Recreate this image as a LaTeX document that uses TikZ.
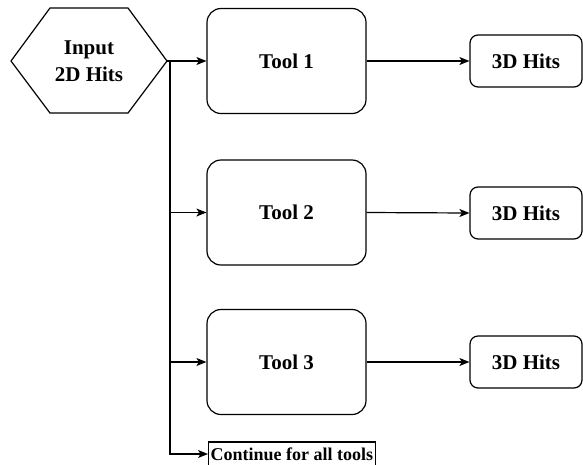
\documentclass[tikz,border=0pt]{standalone}
\usepackage{fontspec}
\setmainfont{Liberation Serif}
\usetikzlibrary{arrows.meta}
\begin{document}
\begin{tikzpicture}[x=1pt,y=-1pt,
  line width=1.2pt,
  label font/.style={font=\fontsize{21}{27}\selectfont\bfseries},
  toolbox/.style={draw, rounded corners=14pt, minimum width=159pt,
    minimum height=105pt, inner sep=0pt, label font},
  hitsbox/.style={draw, rounded corners=8pt, minimum width=112pt,
    minimum height=52pt, inner sep=0pt, label font},
  contbox/.style={draw, rectangle, minimum height=24pt, inner sep=2pt,
    font=\fontsize{18}{21}\selectfont\bfseries},
  flow/.style={-{Stealth[length=10pt,width=8pt,inset=2.5pt]}}
]
\useasboundingbox (0,0) rectangle (583,464);
\clip (0,0) rectangle (583,464);

% input hexagon
\draw (11,61) -- (50,8) -- (128,8) -- (167,61) -- (128,113) -- (50,113) -- cycle;
\coordinate (inR) at (167,61);
\node[label font, align=center, inner sep=0pt] (input) at (89,61) {Input\\2D Hits};

% tools
\node[toolbox] (tool1) at (286.5,61) {Tool 1};
\node[toolbox] (tool2) at (286.5,212.5) {Tool 2};
\node[toolbox] (tool3) at (286.5,362) {Tool 3};

% outputs
\node[hitsbox] (hits1) at (526,61) {3D Hits};
\node[hitsbox] (hits2) at (526,213) {3D Hits};
\node[hitsbox] (hits3) at (526,362) {3D Hits};

% continuation note
\node[contbox, anchor=west] (cont) at (208,454) {Continue for all tools};

% distribution trunk
\coordinate (trunk) at (170,61);
\draw (inR) -- (trunk);
\draw[flow] (trunk) -- (tool1.west);
\draw[flow] (trunk) |- (cont.west);
\draw[flow] (trunk |- tool2.west) -- (tool2.west);
\draw[flow] (trunk |- tool3.west) -- (tool3.west);

% tool outputs
\draw[flow] (tool1.east) -- (hits1.west);
\draw[flow] (tool2.east) -- (hits2.west);
\draw[flow] (tool3.east) -- (hits3.west);
\end{tikzpicture}
\end{document}
